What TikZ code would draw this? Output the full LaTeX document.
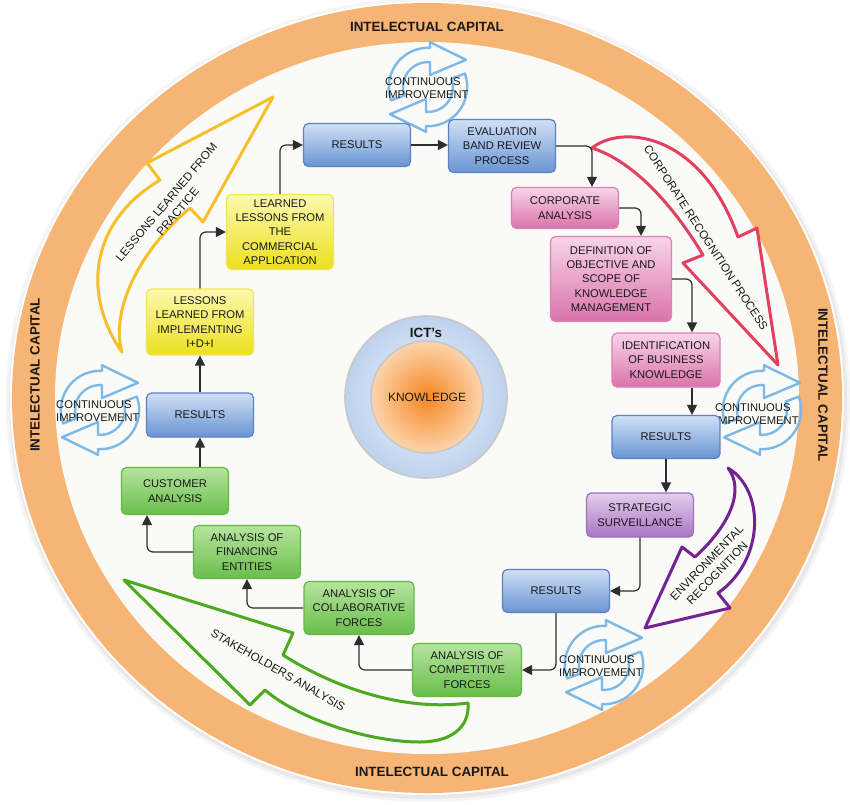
\documentclass[tikz,border=0pt]{standalone}
\usepackage{fontspec}
\setmainfont{Liberation Sans}
\usetikzlibrary{arrows.meta}
\definecolor{ringOrange}{RGB}{247,181,117}
\definecolor{bgcol}{RGB}{250,250,248}
\definecolor{txtcol}{RGB}{25,25,25}
\definecolor{lineGrey}{RGB}{45,45,45}
\definecolor{blueTop}{RGB}{208,224,246}
\definecolor{blueBot}{RGB}{105,148,210}
\definecolor{blueLine}{RGB}{90,130,195}
\definecolor{yelTop}{RGB}{252,248,175}
\definecolor{yelBot}{RGB}{236,224,30}
\definecolor{yelLine}{RGB}{240,228,90}
\definecolor{pinkTop}{RGB}{248,212,232}
\definecolor{pinkBot}{RGB}{218,115,170}
\definecolor{pinkLine}{RGB}{220,130,180}
\definecolor{purTop}{RGB}{226,207,238}
\definecolor{purBot}{RGB}{170,115,195}
\definecolor{purLine}{RGB}{160,110,190}
\definecolor{grnTop}{RGB}{182,228,158}
\definecolor{grnBot}{RGB}{105,190,75}
\definecolor{grnLine}{RGB}{100,185,70}
\definecolor{yelArrow}{RGB}{246,192,40}
\definecolor{redArrow}{RGB}{225,65,95}
\definecolor{purArrow}{RGB}{115,35,145}
\definecolor{grnArrow}{RGB}{75,170,30}
\definecolor{cycBlue}{RGB}{125,185,230}
\definecolor{ictIn}{RGB}{238,244,252}
\definecolor{ictOut}{RGB}{190,210,238}
\definecolor{knowIn}{RGB}{245,135,35}
\definecolor{knowOut}{RGB}{252,212,172}
\definecolor{circLine}{RGB}{200,200,200}
\tikzset{%
  flow/.style = {-{Triangle[length=10pt,width=10pt]}, line width=1.2pt,
        draw=lineGrey, rounded corners=6pt},
  box/.style = {rectangle, draw, rounded corners=5pt, line width=1.2pt,
        minimum width=107pt, align=center, inner sep=1pt, text=txtcol,
        font=\fontsize{11.2}{14.3}\selectfont},
  resbox/.style = {box, top color=blueTop, bottom color=blueBot, draw=blueLine},
  yelbox/.style = {box, top color=yelTop, bottom color=yelBot, draw=yelLine},
  pinkbox/.style = {box, top color=pinkTop, bottom color=pinkBot, draw=pinkLine},
  purbox/.style = {box, top color=purTop, bottom color=purBot, draw=purLine},
  grnbox/.style = {box, top color=grnTop, bottom color=grnBot, draw=grnLine},
  bigarrow/.style = {line width=3pt, line join=round},
  arrowtxt/.style = {align=center, text=txtcol, inner sep=0pt,
        font=\fontsize{11.6}{14.6}\selectfont},
  captxt/.style = {text=txtcol, inner sep=0pt,
        font=\fontsize{13.4}{15}\selectfont\bfseries},
  cyctxt/.style = {align=left, anchor=west, text=txtcol, inner sep=0pt,
        font=\fontsize{11.2}{13.6}\selectfont},
  cycline/.style = {draw=cycBlue, line width=2.4pt, line join=round},
  cycleicon/.pic = {
        \foreach \r in {0,180}{
          \draw[cycline, rotate=\r] (0.05,1.12) -- (0.95,0.68) -- (0.05,0.3)
            -- (0.05,0.62) arc[start angle=85, end angle=200, radius=0.62]
            -- (200:0.98) arc[start angle=200, end angle=87, radius=0.98]
            -- cycle;
        }
  }
}
\begin{document}
\begin{tikzpicture}[x=1pt, y=-1pt]
    \useasboundingbox (0,0) rectangle (850,804);
    \fill[white] (0,0) rectangle (850,804);
    % ring of intellectual capital
    \fill[black!4] (428,400) ellipse [x radius=422pt, y radius=402pt];
    \fill[black!9] (428,400) ellipse [x radius=419pt, y radius=399pt];
    \fill[white] (427,398) ellipse [x radius=417pt, y radius=397pt];
    \fill[ringOrange] (427,398) ellipse [x radius=415pt, y radius=395pt];
    \fill[bgcol] (427,398) ellipse [x radius=372pt, y radius=356pt];
    \node[captxt] (capTop) at (427,27) {INTELECTUAL CAPITAL};
    \node[captxt] (capBot) at (432,772) {INTELECTUAL CAPITAL};
    \node[captxt, rotate=90] (capLeft) at (35,375) {INTELECTUAL CAPITAL};
    \node[captxt, rotate=-90] (capRight) at (823,385) {INTELECTUAL CAPITAL};
    % core
    \node[circle, draw=circLine, line width=1.6pt, minimum size=162pt,
        inner color=ictIn, outer color=ictOut] (ict) at (426,397) {};
    \node[circle, draw=circLine, line width=1.6pt, minimum size=112pt,
        inner color=knowIn, outer color=knowOut, text=txtcol,
        font=\fontsize{12}{14}\selectfont] (know) at (427,397) {KNOWLEDGE};
    \node[captxt] (ictlbl) at (426,333) {ICT's};
    % big curved arrows
    \draw[bigarrow, draw=yelArrow] (122,352) .. controls (85,300) and (85,225) .. (160,180)
        -- (147,163) -- (273,97) -- (203,222) -- (190,208)
        .. controls (140,250) and (110,310) .. cycle;
    \draw[bigarrow, draw=redArrow] (592,148) .. controls (620,125) and (700,130) .. (738,237)
        -- (757,228) -- (778,365) -- (683,263) -- (703,255)
        .. controls (670,200) and (630,160) .. cycle;
    \draw[bigarrow, draw=purArrow] (728,468) .. controls (765,490) and (765,560) .. (718,593)
        -- (730,608) -- (645,628) -- (682,547) -- (695,557)
        .. controls (730,525) and (745,490) .. cycle;
    \draw[bigarrow, draw=grnArrow] (124,580) -- (293,633) -- (283,655)
        .. controls (330,685) and (400,712) .. (468,703)
        .. controls (470,728) and (450,742) .. (420,742)
        .. controls (370,742) and (300,720) .. (265,690)
        -- (250,705) -- cycle;
    \node[arrowtxt, rotate=50] (lessprac) at (172,207) {LESSONS LEARNED FROM\\PRACTICE};
    \node[arrowtxt, rotate=-57] (corprec) at (706,238) {CORPORATE RECOGNITION PROCESS};
    \node[arrowtxt, rotate=46] (envrec) at (712,568) {ENVIRONMENTAL\\RECOGNITION};
    \node[arrowtxt, rotate=-30] (stakean) at (278,670) {STAKEHOLDERS ANALYSIS};
    % continuous improvement
    \path (428,87) pic[x=40pt, y=40pt] {cycleicon};
    \path (100,410) pic[x=40pt, y=40pt] {cycleicon};
    \path (762,410) pic[x=40pt, y=40pt] {cycleicon};
    \path (604,665) pic[x=40pt, y=40pt] {cycleicon};
    \node[cyctxt] (cimpTop) at (385,88) {CONTINUOUS\\IMPROVEMENT};
    \node[cyctxt] (cimpLeft) at (56,411) {CONTINUOUS\\IMPROVEMENT};
    \node[cyctxt] (cimpRight) at (715,414) {CONTINUOUS\\IMPROVEMENT};
    \node[cyctxt] (cimpBot) at (559,666) {CONTINUOUS\\IMPROVEMENT};
    % process boxes
    \node[resbox, minimum height=43pt] (res1) at (357,145) {RESULTS};
    \node[resbox, minimum height=53pt] (evalrev) at (502,146) {EVALUATION\\BAND REVIEW\\PROCESS};
    \node[pinkbox, minimum height=41pt] (corpan) at (565,208) {CORPORATE\\ANALYSIS};
    \node[pinkbox, minimum width=121pt, minimum height=85pt] (defobj) at (611,279)
        {DEFINITION OF\\OBJECTIVE AND\\SCOPE OF\\KNOWLEDGE\\MANAGEMENT};
    \node[pinkbox, minimum width=108pt, minimum height=54pt] (identbus) at (666,360)
        {IDENTIFICATION\\OF BUSINESS\\KNOWLEDGE};
    \node[resbox, minimum width=108pt, minimum height=43pt] (res2) at (666,437) {RESULTS};
    \node[purbox, minimum height=44pt] (stratsurv) at (640,515) {STRATEGIC\\SURVEILLANCE};
    \node[resbox, minimum height=43pt] (res3) at (556,591) {RESULTS};
    \node[grnbox, minimum width=109pt, minimum height=53pt] (compforces) at (467,670)
        {ANALYSIS OF\\COMPETITIVE\\FORCES};
    \node[grnbox, minimum width=110pt, minimum height=53pt] (collforces) at (359,608)
        {ANALYSIS OF\\COLLABORATIVE\\FORCES};
    \node[grnbox, minimum height=53pt] (finent) at (247,552) {ANALYSIS OF\\FINANCING\\ENTITIES};
    \node[grnbox, minimum height=47pt] (custan) at (175,491) {CUSTOMER\\ANALYSIS};
    \node[resbox, minimum height=44pt] (res4) at (200,415) {RESULTS};
    \node[yelbox, minimum height=66pt] (lessimpl) at (200,322)
        {LESSONS\\LEARNED FROM\\IMPLEMENTING\\I+D+I};
    \node[yelbox, minimum height=75pt] (lesscomm) at (280,232)
        {LEARNED\\LESSONS FROM\\THE\\COMMERCIAL\\APPLICATION};
    % flow
    \draw[flow] (lessimpl.north) |- (lesscomm.west);
    \draw[flow] (lesscomm.north) |- (res1.west);
    \draw[flow] (res1.east) -- (res1.east -| evalrev.west);
    \draw[flow] (evalrev.east) -| ([xshift=27pt]corpan.north);
    \draw[flow] (corpan.east) -| ([xshift=30pt]defobj.north);
    \draw[flow] (defobj.east) -| ([xshift=26pt]identbus.north);
    \draw[flow] ([xshift=26pt]identbus.south) -- ([xshift=26pt]res2.north);
    \draw[flow] (res2.south) -- (res2.south |- stratsurv.north);
    \draw[flow] (stratsurv.south) |- (res3.east);
    \draw[flow] (res3.south) |- (compforces.east);
    \draw[flow] (compforces.west) -| (collforces.south);
    \draw[flow] (collforces.west) -| (finent.south);
    \draw[flow] (finent.west) -| ([xshift=-28pt]custan.south);
    \draw[flow] ([xshift=25pt]custan.north) -- ([xshift=25pt]custan.north |- res4.south);
    \draw[flow] (res4.north) -- (lessimpl.south);
\end{tikzpicture}
\end{document}
